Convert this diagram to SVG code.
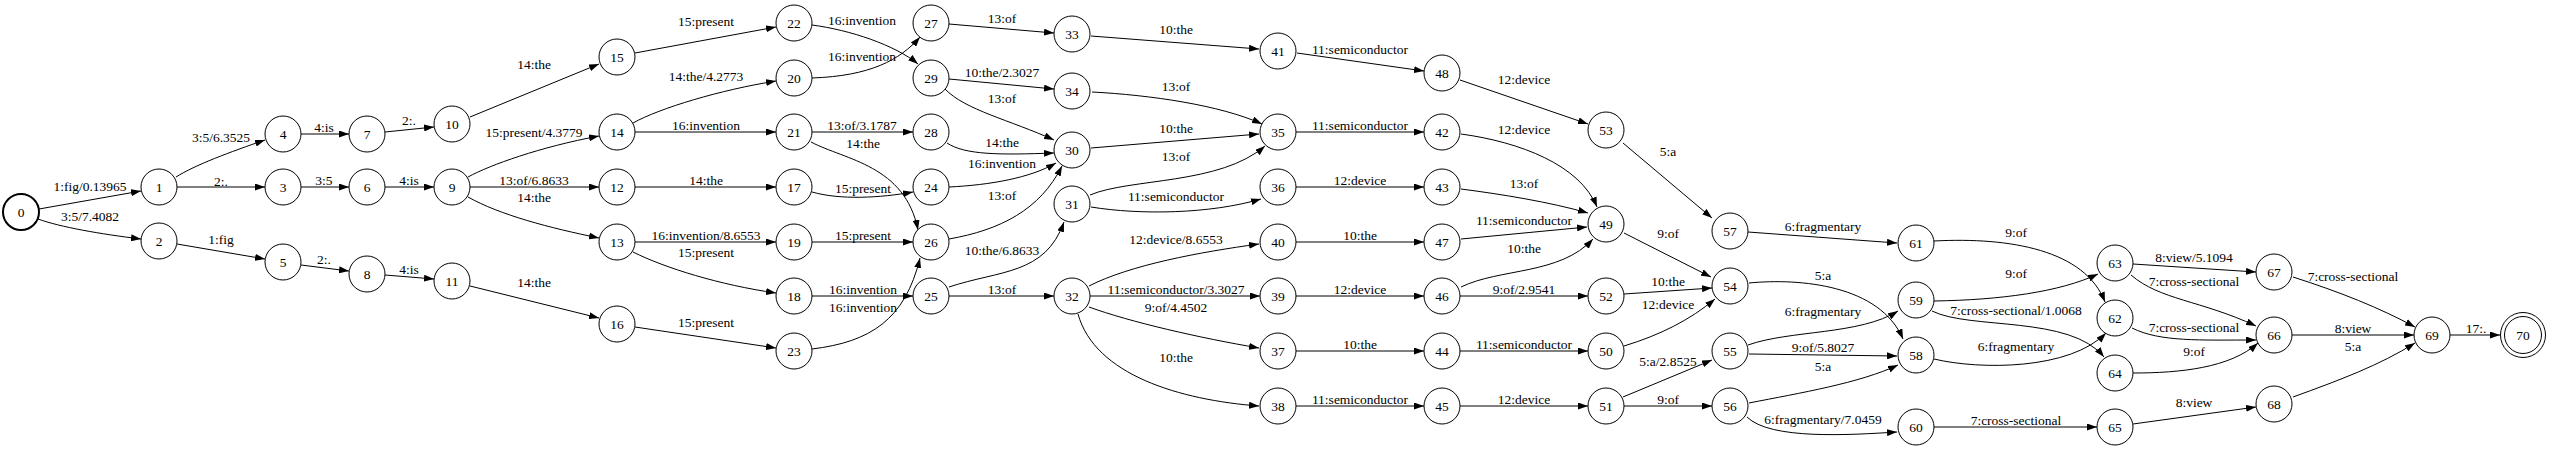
<svg xmlns="http://www.w3.org/2000/svg" width="2550" height="450" viewBox="0 0 2550 450">
<style>
text{font-family:"Liberation Serif","Times New Roman",serif;font-size:13.5px;fill:#000;text-anchor:middle}
.nd circle{fill:#fff;stroke:#000;stroke-width:1}
#edges path{fill:none;stroke:#000;stroke-width:1;marker-end:url(#a)}
</style>
<defs>
<marker id="a" markerWidth="10" markerHeight="7" refX="10" refY="3.5" orient="auto" markerUnits="userSpaceOnUse"><path d="M0,0 L10,3.5 L0,7 z" fill="#000"/></marker>
</defs>
<rect width="2550" height="450" fill="#fff"/>
<g id="edges">
<path d="M39,209 L141,191"/><text x="90" y="191">1:fig/0.13965</text>
<path d="M38,219 C60,227 100,234 141,239"/><text x="90" y="221">3:5/7.4082</text>
<path d="M176,177 C195,165 230,152 265,140"/><text x="221" y="142">3:5/6.3525</text>
<path d="M177,187 L265,187"/><text x="221" y="186">2:.</text>
<path d="M177,244 L265,259"/><text x="221" y="244">1:fig</text>
<path d="M301,134 L349,134"/><text x="324" y="132">4:is</text>
<path d="M301,187 L349,187"/><text x="324" y="185">3:5</text>
<path d="M301,265 L349,271"/><text x="324" y="264">2:.</text>
<path d="M385,132 L434,127"/><text x="409" y="125">2:.</text>
<path d="M385,187 L434,187"/><text x="409" y="185">4:is</text>
<path d="M385,275 L434,279"/><text x="409" y="274">4:is</text>
<path d="M470,117 L599,64"/><text x="534" y="69">14:the</text>
<path d="M468,177 C490,165 540,147 599,136"/><text x="534" y="137">15:present/4.3779</text>
<path d="M470,187 L599,187"/><text x="534" y="185">13:of/6.8633</text>
<path d="M468,197 C500,215 550,228 599,238"/><text x="534" y="202">14:the</text>
<path d="M470,286 L599,318"/><text x="534" y="287">14:the</text>
<path d="M635,53 L776,27"/><text x="706" y="26">15:present</text>
<path d="M633,123 C660,108 720,90 776,81"/><text x="706" y="81">14:the/4.2773</text>
<path d="M635,132 L776,132"/><text x="706" y="130">16:invention</text>
<path d="M635,187 L776,187"/><text x="706" y="185">14:the</text>
<path d="M635,242 L776,242"/><text x="706" y="240">16:invention/8.6553</text>
<path d="M633,252 C665,268 720,285 776,293"/><text x="706" y="257">15:present</text>
<path d="M635,327 L776,348"/><text x="706" y="327">15:present</text>
<path d="M812,25 C850,30 895,45 918,64"/><text x="862" y="25">16:invention</text>
<path d="M812,78 C870,76 900,60 920,37"/><text x="862" y="61">16:invention</text>
<path d="M812,132 L913,132"/><text x="862" y="130">13:of/3.1787</text>
<path d="M811,142 C845,160 905,165 918,230"/><text x="863" y="148">14:the</text>
<path d="M812,192 C840,200 880,198 913,192"/><text x="863" y="193">15:present</text>
<path d="M812,242 L913,242"/><text x="863" y="240">15:present</text>
<path d="M812,296 L913,296"/><text x="863" y="294">16:invention</text>
<path d="M812,349 C870,342 905,320 920,258"/><text x="863" y="312">16:invention</text>
<path d="M949,24 L1054,33"/><text x="1002" y="23">13:of</text>
<path d="M949,79 L1054,89"/><text x="1002" y="77">10:the/2.3027</text>
<path d="M945,89 C965,110 1010,120 1054,140"/><text x="1002" y="103">13:of</text>
<path d="M947,143 C965,155 1000,155 1054,153"/><text x="1002" y="147">14:the</text>
<path d="M949,187 C990,185 1030,178 1056,163"/><text x="1002" y="168">16:invention</text>
<path d="M949,239 C1000,230 1040,210 1062,166"/><text x="1002" y="200">13:of</text>
<path d="M949,287 C1000,270 1045,275 1064,222"/><text x="1002" y="255">10:the/6.8633</text>
<path d="M949,296 L1054,296"/><text x="1002" y="294">13:of</text>
<path d="M1091,36 L1259,49"/><text x="1176" y="34">10:the</text>
<path d="M1092,92 C1150,95 1220,105 1262,124"/><text x="1176" y="91">13:of</text>
<path d="M1091,148 L1259,134"/><text x="1176" y="133">10:the</text>
<path d="M1090,195 C1130,178 1220,185 1265,146"/><text x="1176" y="161">13:of</text>
<path d="M1091,207 C1140,215 1210,214 1261,199"/><text x="1176" y="201">11:semiconductor</text>
<path d="M1089,286 C1130,265 1200,252 1259,244"/><text x="1176" y="244">12:device/8.6553</text>
<path d="M1090,296 L1260,296"/><text x="1176" y="294">11:semiconductor/3.3027</text>
<path d="M1089,307 C1130,322 1200,338 1259,348"/><text x="1176" y="312">9:of/4.4502</text>
<path d="M1078,314 C1095,375 1180,400 1259,406"/><text x="1176" y="362">10:the</text>
<path d="M1297,53 L1424,71"/><text x="1360" y="54">11:semiconductor</text>
<path d="M1296,132 L1424,132"/><text x="1360" y="130">11:semiconductor</text>
<path d="M1296,187 L1424,187"/><text x="1360" y="185">12:device</text>
<path d="M1296,242 L1424,242"/><text x="1360" y="240">10:the</text>
<path d="M1296,296 L1424,296"/><text x="1360" y="294">12:device</text>
<path d="M1296,351 L1424,351"/><text x="1360" y="349">10:the</text>
<path d="M1296,406 L1424,406"/><text x="1360" y="404">11:semiconductor</text>
<path d="M1460,80 L1588,124"/><text x="1524" y="84">12:device</text>
<path d="M1461,134 C1520,142 1580,165 1597,207"/><text x="1524" y="134">12:device</text>
<path d="M1461,189 C1500,194 1550,202 1588,213"/><text x="1524" y="188">13:of</text>
<path d="M1461,239 L1587,227"/><text x="1524" y="225">11:semiconductor</text>
<path d="M1461,287 C1500,268 1560,275 1593,239"/><text x="1524" y="253">10:the</text>
<path d="M1460,296 L1588,296"/><text x="1524" y="294">9:of/2.9541</text>
<path d="M1460,351 L1588,351"/><text x="1524" y="349">11:semiconductor</text>
<path d="M1460,406 L1588,406"/><text x="1524" y="404">12:device</text>
<path d="M1623,143 L1712,218"/><text x="1668" y="156">5:a</text>
<path d="M1624,233 L1711,277"/><text x="1668" y="238">9:of</text>
<path d="M1624,294 L1712,288"/><text x="1668" y="286">10:the</text>
<path d="M1624,346 C1660,335 1690,320 1715,299"/><text x="1668" y="309">12:device</text>
<path d="M1623,397 L1712,360"/><text x="1668" y="366">5:a/2.8525</text>
<path d="M1624,406 L1712,406"/><text x="1668" y="404">9:of</text>
<path d="M1748,232 L1897,243"/><text x="1823" y="231">6:fragmentary</text>
<path d="M1749,283 C1800,278 1880,285 1903,339"/><text x="1823" y="280">5:a</text>
<path d="M1748,345 C1790,330 1860,335 1898,311"/><text x="1823" y="316">6:fragmentary</text>
<path d="M1749,354 L1897,356"/><text x="1823" y="352">9:of/5.8027</text>
<path d="M1749,403 C1800,393 1860,383 1898,365"/><text x="1823" y="371">5:a</text>
<path d="M1747,417 C1770,440 1850,435 1897,432"/><text x="1823" y="424">6:fragmentary/7.0459</text>
<path d="M1934,241 C2010,237 2085,250 2105,302"/><text x="2016" y="237">9:of</text>
<path d="M1934,301 C2000,300 2060,292 2098,274"/><text x="2016" y="278">9:of</text>
<path d="M1932,311 C1970,330 2070,315 2104,357"/><text x="2016" y="315">7:cross-sectional/1.0068</text>
<path d="M1934,359 C1980,370 2070,370 2106,333"/><text x="2016" y="351">6:fragmentary</text>
<path d="M1934,427 L2097,427"/><text x="2016" y="425">7:cross-sectional</text>
<path d="M2133,264 L2256,272"/><text x="2194" y="262">8:view/5.1094</text>
<path d="M2131,275 C2160,300 2200,300 2256,326"/><text x="2194" y="286">7:cross-sectional</text>
<path d="M2132,328 C2160,342 2200,340 2256,340"/><text x="2194" y="332">7:cross-sectional</text>
<path d="M2133,373 C2180,373 2230,368 2258,343"/><text x="2194" y="356">9:of</text>
<path d="M2133,424 L2256,407"/><text x="2194" y="407">8:view</text>
<path d="M2293,277 C2340,292 2380,308 2415,327"/><text x="2353" y="281">7:cross-sectional</text>
<path d="M2292,335 L2414,335"/><text x="2353" y="333">8:view</text>
<path d="M2293,397 C2340,380 2380,365 2415,343"/><text x="2353" y="351">5:a</text>
<path d="M2450,335 L2500,335"/><text x="2476" y="333">17:.</text>
</g>
<g id="n0" class="nd"><circle cx="21" cy="212" r="18" style="stroke-width:2"/><text x="21" y="217">0</text></g>
<g id="n1" class="nd"><circle cx="159" cy="187" r="18"/><text x="159" y="192">1</text></g>
<g id="n2" class="nd"><circle cx="159" cy="241" r="18"/><text x="159" y="246">2</text></g>
<g id="n3" class="nd"><circle cx="283" cy="187" r="18"/><text x="283" y="192">3</text></g>
<g id="n4" class="nd"><circle cx="283" cy="134" r="18"/><text x="283" y="139">4</text></g>
<g id="n5" class="nd"><circle cx="283" cy="262" r="18"/><text x="283" y="267">5</text></g>
<g id="n6" class="nd"><circle cx="367" cy="187" r="18"/><text x="367" y="192">6</text></g>
<g id="n7" class="nd"><circle cx="367" cy="134" r="18"/><text x="367" y="139">7</text></g>
<g id="n8" class="nd"><circle cx="367" cy="274" r="18"/><text x="367" y="279">8</text></g>
<g id="n9" class="nd"><circle cx="452" cy="187" r="18"/><text x="452" y="192">9</text></g>
<g id="n10" class="nd"><circle cx="452" cy="124" r="18"/><text x="452" y="129">10</text></g>
<g id="n11" class="nd"><circle cx="452" cy="281" r="18"/><text x="452" y="286">11</text></g>
<g id="n12" class="nd"><circle cx="617" cy="187" r="18"/><text x="617" y="192">12</text></g>
<g id="n13" class="nd"><circle cx="617" cy="242" r="18"/><text x="617" y="247">13</text></g>
<g id="n14" class="nd"><circle cx="617" cy="132" r="18"/><text x="617" y="137">14</text></g>
<g id="n15" class="nd"><circle cx="617" cy="57" r="18"/><text x="617" y="62">15</text></g>
<g id="n16" class="nd"><circle cx="617" cy="324" r="18"/><text x="617" y="329">16</text></g>
<g id="n17" class="nd"><circle cx="794" cy="187" r="18"/><text x="794" y="192">17</text></g>
<g id="n18" class="nd"><circle cx="794" cy="296" r="18"/><text x="794" y="301">18</text></g>
<g id="n19" class="nd"><circle cx="794" cy="242" r="18"/><text x="794" y="247">19</text></g>
<g id="n20" class="nd"><circle cx="794" cy="78" r="18"/><text x="794" y="83">20</text></g>
<g id="n21" class="nd"><circle cx="794" cy="132" r="18"/><text x="794" y="137">21</text></g>
<g id="n22" class="nd"><circle cx="794" cy="23" r="18"/><text x="794" y="28">22</text></g>
<g id="n23" class="nd"><circle cx="794" cy="351" r="18"/><text x="794" y="356">23</text></g>
<g id="n24" class="nd"><circle cx="931" cy="187" r="18"/><text x="931" y="192">24</text></g>
<g id="n25" class="nd"><circle cx="931" cy="296" r="18"/><text x="931" y="301">25</text></g>
<g id="n26" class="nd"><circle cx="931" cy="242" r="18"/><text x="931" y="247">26</text></g>
<g id="n27" class="nd"><circle cx="931" cy="23" r="18"/><text x="931" y="28">27</text></g>
<g id="n28" class="nd"><circle cx="931" cy="132" r="18"/><text x="931" y="137">28</text></g>
<g id="n29" class="nd"><circle cx="931" cy="78" r="18"/><text x="931" y="83">29</text></g>
<g id="n30" class="nd"><circle cx="1072" cy="150" r="18"/><text x="1072" y="155">30</text></g>
<g id="n31" class="nd"><circle cx="1072" cy="204" r="18"/><text x="1072" y="209">31</text></g>
<g id="n32" class="nd"><circle cx="1072" cy="296" r="18"/><text x="1072" y="301">32</text></g>
<g id="n33" class="nd"><circle cx="1072" cy="34" r="18"/><text x="1072" y="39">33</text></g>
<g id="n34" class="nd"><circle cx="1072" cy="91" r="18"/><text x="1072" y="96">34</text></g>
<g id="n35" class="nd"><circle cx="1278" cy="132" r="18"/><text x="1278" y="137">35</text></g>
<g id="n36" class="nd"><circle cx="1278" cy="187" r="18"/><text x="1278" y="192">36</text></g>
<g id="n37" class="nd"><circle cx="1278" cy="351" r="18"/><text x="1278" y="356">37</text></g>
<g id="n38" class="nd"><circle cx="1278" cy="406" r="18"/><text x="1278" y="411">38</text></g>
<g id="n39" class="nd"><circle cx="1278" cy="296" r="18"/><text x="1278" y="301">39</text></g>
<g id="n40" class="nd"><circle cx="1278" cy="242" r="18"/><text x="1278" y="247">40</text></g>
<g id="n41" class="nd"><circle cx="1278" cy="51" r="18"/><text x="1278" y="56">41</text></g>
<g id="n42" class="nd"><circle cx="1442" cy="132" r="18"/><text x="1442" y="137">42</text></g>
<g id="n43" class="nd"><circle cx="1442" cy="187" r="18"/><text x="1442" y="192">43</text></g>
<g id="n44" class="nd"><circle cx="1442" cy="351" r="18"/><text x="1442" y="356">44</text></g>
<g id="n45" class="nd"><circle cx="1442" cy="406" r="18"/><text x="1442" y="411">45</text></g>
<g id="n46" class="nd"><circle cx="1442" cy="296" r="18"/><text x="1442" y="301">46</text></g>
<g id="n47" class="nd"><circle cx="1442" cy="242" r="18"/><text x="1442" y="247">47</text></g>
<g id="n48" class="nd"><circle cx="1442" cy="73" r="18"/><text x="1442" y="78">48</text></g>
<g id="n49" class="nd"><circle cx="1606" cy="224" r="18"/><text x="1606" y="229">49</text></g>
<g id="n50" class="nd"><circle cx="1606" cy="351" r="18"/><text x="1606" y="356">50</text></g>
<g id="n51" class="nd"><circle cx="1606" cy="406" r="18"/><text x="1606" y="411">51</text></g>
<g id="n52" class="nd"><circle cx="1606" cy="296" r="18"/><text x="1606" y="301">52</text></g>
<g id="n53" class="nd"><circle cx="1606" cy="130" r="18"/><text x="1606" y="135">53</text></g>
<g id="n54" class="nd"><circle cx="1730" cy="286" r="18"/><text x="1730" y="291">54</text></g>
<g id="n55" class="nd"><circle cx="1730" cy="351" r="18"/><text x="1730" y="356">55</text></g>
<g id="n56" class="nd"><circle cx="1730" cy="406" r="18"/><text x="1730" y="411">56</text></g>
<g id="n57" class="nd"><circle cx="1730" cy="231" r="18"/><text x="1730" y="236">57</text></g>
<g id="n58" class="nd"><circle cx="1916" cy="355" r="18"/><text x="1916" y="360">58</text></g>
<g id="n59" class="nd"><circle cx="1916" cy="300" r="18"/><text x="1916" y="305">59</text></g>
<g id="n60" class="nd"><circle cx="1916" cy="427" r="18"/><text x="1916" y="432">60</text></g>
<g id="n61" class="nd"><circle cx="1916" cy="243" r="18"/><text x="1916" y="248">61</text></g>
<g id="n62" class="nd"><circle cx="2115" cy="318" r="18"/><text x="2115" y="323">62</text></g>
<g id="n63" class="nd"><circle cx="2115" cy="263" r="18"/><text x="2115" y="268">63</text></g>
<g id="n64" class="nd"><circle cx="2115" cy="373" r="18"/><text x="2115" y="378">64</text></g>
<g id="n65" class="nd"><circle cx="2115" cy="427" r="18"/><text x="2115" y="432">65</text></g>
<g id="n66" class="nd"><circle cx="2274" cy="335" r="18"/><text x="2274" y="340">66</text></g>
<g id="n67" class="nd"><circle cx="2274" cy="272" r="18"/><text x="2274" y="277">67</text></g>
<g id="n68" class="nd"><circle cx="2274" cy="404" r="18"/><text x="2274" y="409">68</text></g>
<g id="n69" class="nd"><circle cx="2432" cy="335" r="18"/><text x="2432" y="340">69</text></g>
<g id="n70" class="nd"><circle cx="2523" cy="335" r="22.5"/><circle cx="2523" cy="335" r="18.5"/><text x="2523" y="340">70</text></g>
</svg>
